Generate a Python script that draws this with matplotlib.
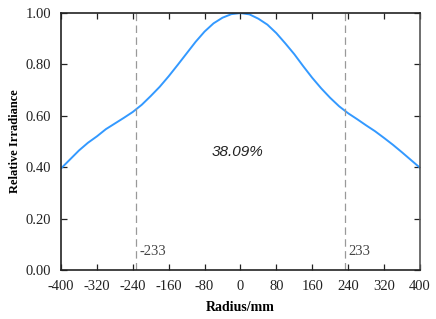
import matplotlib.pyplot as plt

# Radius (mm) and relative irradiance
radius = [-400, -380, -360, -340, -320, -300, -280, -260, -240, -220, -200,
          -180, -160, -140, -120, -100, -80, -60, -40, -20, 0,
          20, 40, 60, 80, 100, 120, 140, 160, 180, 200,
          220, 240, 260, 280, 300, 320, 340, 360, 380, 400]
irradiance = [0.395, 0.430, 0.465, 0.495, 0.520, 0.548, 0.570, 0.592, 0.615, 0.643, 0.677,
              0.713, 0.754, 0.798, 0.843, 0.888, 0.928, 0.960, 0.982, 0.996, 1.000,
              0.995, 0.978, 0.955, 0.922, 0.882, 0.840, 0.793, 0.748, 0.707, 0.670,
              0.637, 0.610, 0.587, 0.563, 0.540, 0.514, 0.487, 0.458, 0.428, 0.398]

bounds = [-233, 233]
bound_labels = ["-233", "233"]
ratio_text = "38.09%"

xticks = list(range(-400, 401, 80))
yticks = [0.0, 0.2, 0.4, 0.6, 0.8, 1.0]

plt.rcParams['font.family'] = 'Liberation Serif'

fig = plt.figure(figsize=(4.36, 3.19), dpi=100)
ax = fig.add_axes([0.140, 0.154, 0.823, 0.805])

ax.plot(radius, irradiance, color='#3399ff', linewidth=1.4)

for b, lab in zip(bounds, bound_labels):
    ax.axvline(b, color='#999999', linewidth=0.9, linestyle=(0, (6, 3.5)))
    ax.text(b + 8, 0.07, lab, fontsize=10.5, color='#444444', ha='left', va='center')

ax.text(-7, 0.46, ratio_text, fontsize=11, style='italic', family='Liberation Sans',
        ha='center', va='center', color='#222222')

ax.set_xlim(-400, 400)
ax.set_ylim(0, 1.0)
ax.set_xticks(xticks)
ax.set_xticklabels([str(t) for t in xticks])
ax.set_yticks(yticks)
ax.set_yticklabels([f"{t:.2f}" for t in yticks])
ax.tick_params(direction='in', length=4, width=0.9, labelsize=10.5,
               top=True, right=True, colors='#222222')
ax.tick_params(axis='x', pad=7)
ax.tick_params(axis='y', pad=7)

for side in ['left', 'bottom', 'top']:
    ax.spines[side].set_color('#222222')
    ax.spines[side].set_linewidth(1.2)
ax.spines['right'].set_color('#555555')
ax.spines['right'].set_linewidth(1.2)

ax.set_xlabel("Radius/mm", fontsize=10, fontweight='bold', labelpad=6)
ax.set_ylabel("Relative Irradiance", fontsize=9, fontweight='bold', labelpad=3.5)

fig.savefig("out.png", dpi=100)
